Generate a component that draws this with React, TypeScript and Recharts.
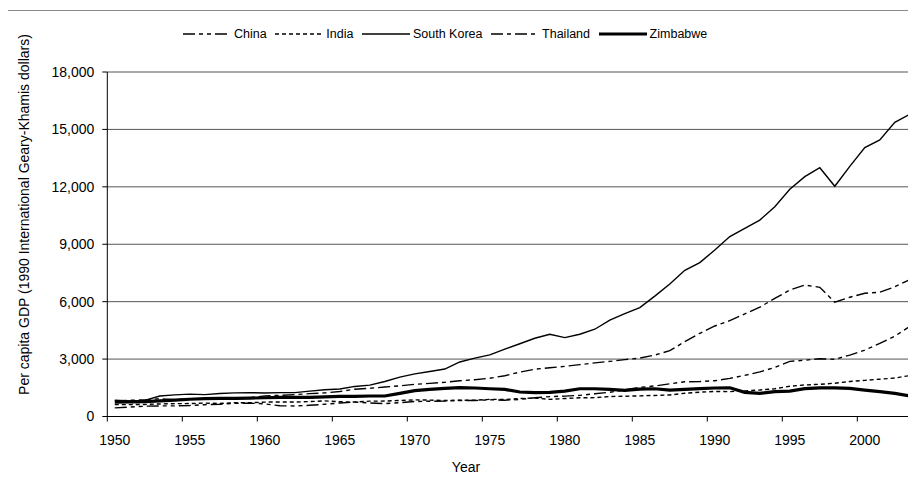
import { CartesianGrid, Line, LineChart, XAxis, YAxis } from "recharts"

const years = [
  1950, 1951, 1952, 1953, 1954, 1955, 1956, 1957, 1958, 1959,
  1960, 1961, 1962, 1963, 1964, 1965, 1966, 1967, 1968, 1969,
  1970, 1971, 1972, 1973, 1974, 1975, 1976, 1977, 1978, 1979,
  1980, 1981, 1982, 1983, 1984, 1985, 1986, 1987, 1988, 1989,
  1990, 1991, 1992, 1993, 1994, 1995, 1996, 1997, 1998, 1999,
  2000, 2001, 2002, 2003,
]

const china = [
  448, 491, 538, 552, 556, 577, 616, 637, 693, 697,
  662, 559, 550, 586, 639, 706, 753, 709, 673, 722,
  783, 799, 803, 839, 836, 874, 852, 895, 978, 1039,
  1067, 1103, 1192, 1265, 1396, 1519, 1597, 1706, 1816, 1827,
  1871, 1990, 2150, 2330, 2560, 2880, 2940, 3020, 2990, 3210,
  3470, 3820, 4200, 4700,
]

const india = [
  619, 623, 629, 657, 672, 676, 701, 680, 718, 719,
  753, 758, 758, 779, 814, 771, 756, 801, 807, 838,
  868, 856, 833, 853, 848, 897, 889, 937, 966, 895,
  938, 977, 985, 1043, 1060, 1079, 1101, 1125, 1216, 1271,
  1309, 1299, 1341, 1384, 1450, 1580, 1650, 1680, 1740, 1830,
  1890, 1950, 2010, 2140,
]

const southKorea = [
  854, 810, 840, 1072, 1130, 1168, 1145, 1199, 1236, 1245,
  1226, 1247, 1245, 1325, 1397, 1436, 1571, 1641, 1830, 2060,
  2230, 2350, 2480, 2850, 3050, 3220, 3520, 3800, 4090, 4300,
  4120, 4300, 4560, 5030, 5380, 5690, 6290, 6920, 7640, 8040,
  8700, 9400, 9830, 10260, 10960, 11870, 12530, 13000, 12030, 13070,
  14050, 14450, 15370, 15790,
]

const thailand = [
  817, 852, 870, 930, 884, 923, 925, 900, 914, 975,
  1078, 1102, 1144, 1193, 1234, 1308, 1425, 1475, 1538, 1604,
  1680, 1730, 1790, 1870, 1920, 2000, 2130, 2320, 2470, 2550,
  2620, 2710, 2800, 2880, 2970, 3050, 3210, 3440, 3910, 4350,
  4730, 5010, 5360, 5710, 6170, 6610, 6870, 6750, 5970, 6230,
  6440, 6490, 6780, 7150,
]

const zimbabwe = [
  750, 760, 780, 820, 860, 900, 930, 950, 950, 960,
  980, 1000, 1000, 1000, 1030, 1050, 1050, 1070, 1070, 1210,
  1350, 1420, 1470, 1510, 1490, 1450, 1420, 1280, 1250, 1260,
  1330, 1450, 1450, 1420, 1370, 1430, 1450, 1380, 1420, 1460,
  1490, 1500, 1260, 1210, 1300, 1330, 1460, 1500, 1500, 1470,
  1380, 1300, 1210, 1070,
]

const yTicks = [0, 3000, 6000, 9000, 12000, 15000, 18000]
const xTicks = [1950, 1955, 1960, 1965, 1970, 1975, 1980, 1985, 1990, 1995, 2000]

const data = years.map((year, i) => ({
  year,
  china: china[i],
  india: india[i],
  southKorea: southKorea[i],
  thailand: thailand[i],
  zimbabwe: zimbabwe[i],
}))

const series = [
  { key: "china", name: "China", dash: "12 4 4 4 4 4", width: 1.4 },
  { key: "india", name: "India", dash: "4 3", width: 1.4 },
  { key: "southKorea", name: "South Korea", dash: undefined, width: 1.4 },
  { key: "thailand", name: "Thailand", dash: "12 4 4 4", width: 1.4 },
  { key: "zimbabwe", name: "Zimbabwe", dash: undefined, width: 3.2 },
]

const font = "Arial, 'Liberation Sans', sans-serif"

// tick marks sit on the category boundary, labels on the category centre
function YearTick({ x, y, payload }: any) {
  return (
    <g>
      <line x1={x - 7.5} x2={x - 7.5} y1={y} y2={y + 5} stroke="#000" />
      <text x={x} y={y + 28.5} textAnchor="middle" fontSize={14} fill="#000" fontFamily={font}>
        {payload.value}
      </text>
    </g>
  )
}

function Legend() {
  return (
    <div
      style={{
        position: "absolute",
        left: 183,
        top: 26,
        display: "flex",
        alignItems: "center",
        fontFamily: font,
        fontSize: 12.5,
        lineHeight: "16px",
        whiteSpace: "nowrap",
      }}
    >
      {series.map((s) => (
        <div key={s.key} style={{ display: "flex", alignItems: "center", marginRight: 8.6 }}>
          <svg width={48} height={16} style={{ display: "block" }}>
            <line x1={0} x2={48} y1={8} y2={8} stroke="#000" strokeWidth={s.width} strokeDasharray={s.dash} />
          </svg>
          <span style={{ marginLeft: 3 }}>{s.name}</span>
        </div>
      ))}
    </div>
  )
}

export default function App() {
  return (
    <div style={{ position: "relative", width: 916, height: 481, margin: -8, overflow: "hidden", background: "#fff" }}>
      <div
        style={{
          position: "absolute",
          left: 7,
          top: 10,
          width: 1000,
          height: 1000,
          borderLeft: "1px solid #8a8a8a",
          borderTop: "1px solid #8a8a8a",
        }}
      />
      <LineChart
        width={930}
        height={481}
        data={data}
        margin={{ top: 72, right: 12.7, bottom: 34.5, left: 47.3 }}
        style={{ position: "absolute", left: 0, top: 0 }}
      >
        <CartesianGrid vertical={false} stroke="#555" />
        <XAxis
          dataKey="year"
          type="number"
          domain={[1949.5, 2003.5]}
          ticks={xTicks}
          height={30}
          tickSize={0}
          tickMargin={0}
          tickLine={false}
          axisLine={{ stroke: "#000" }}
          tick={<YearTick />}
          interval={0}
          label={{
            value: "Year",
            content: () => (
              <text x={466} y={471.5} textAnchor="middle" fontSize={14} fill="#000" fontFamily={font}>
                Year
              </text>
            ),
          }}
        />
        <YAxis
          domain={[0, 18000]}
          ticks={yTicks}
          width={60}
          tickSize={5}
          tickMargin={8}
          interval={0}
          axisLine={{ stroke: "#000" }}
          tickLine={{ stroke: "#000" }}
          tick={{ fill: "#000", fontSize: 14, fontFamily: font }}
          tickFormatter={(v: number) => v.toLocaleString("en-US")}
          label={{
            value: "Per capita GDP (1990 International Geary-Khamis dollars)",
            content: () => (
              <text
                transform="translate(28.5, 214.5) rotate(-90)"
                textAnchor="middle"
                fontSize={14}
                fill="#000"
                fontFamily={font}
              >
                Per capita GDP (1990 International Geary-Khamis dollars)
              </text>
            ),
          }}
        />
        {series.map((s) => (
          <Line
            key={s.key}
            type="linear"
            dataKey={s.key}
            name={s.name}
            stroke="#000"
            strokeWidth={s.width}
            strokeDasharray={s.dash}
            dot={false}
            activeDot={false}
            isAnimationActive={false}
          />
        ))}
      </LineChart>
      <Legend />
    </div>
  )
}
